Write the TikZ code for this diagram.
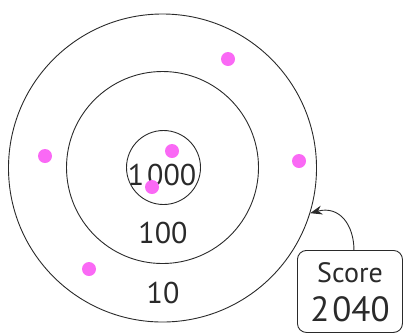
\documentclass[tikz,border=0pt]{standalone}
\usepackage{fontspec}
\setmainfont{PT Sans}
\usetikzlibrary{arrows.meta}
\definecolor{ink}{HTML}{2A2A2A}
\definecolor{dot}{RGB}{250,105,245}
\tikzset{
  ring/.style={circle, draw=ink, line width=0.9pt, inner sep=0pt},
  hit/.style={circle, fill=dot, inner sep=0pt, minimum size=14pt},
  lbl/.style={text=ink, inner sep=0pt, font=\fontsize{30}{30}\selectfont},
}
\begin{document}
\begin{tikzpicture}[x=1pt,y=-1pt]
\useasboundingbox (0,0) rectangle (403,333);
\node[ring, minimum size=308pt] (outer) at (162.5,168) {};
\node[ring, minimum size=192pt] (middle) at (162.5,167.5) {};
\node[ring, minimum size=74pt] (inner) at (163.5,167.5) {};
\node[lbl] (t1000) at (162,175) {1\kern3pt000};
\node[lbl] (t100) at (163,233) {100};
\node[lbl] (t10) at (163,293) {10};
\node[hit] (d1) at (228,59) {};
\node[hit] (d2) at (45,156) {};
\node[hit] (d3) at (299,161) {};
\node[hit] (d4) at (172,151) {};
\node[hit] (d5) at (152,187) {};
\node[hit] (d6) at (89,269) {};
\node[draw=ink, line width=0.9pt, rounded corners=9pt, minimum width=105pt, minimum height=82pt, anchor=north west, inner sep=0pt] (score) at (297,250) {};
\node[lbl, font=\fontsize{28}{28}\selectfont] (slabel) at (350,273) {Score};
\node[lbl, font=\fontsize{35}{35}\selectfont] (sval) at (350,309) {2\kern3pt040};
\draw[ink, line width=0.9pt, -{Stealth[length=12pt,width=9pt]}] ([xshift=4pt]score.north) .. controls +(0,-24) and +(30,-8) .. (outer.-17.5);
\end{tikzpicture}
\end{document}
